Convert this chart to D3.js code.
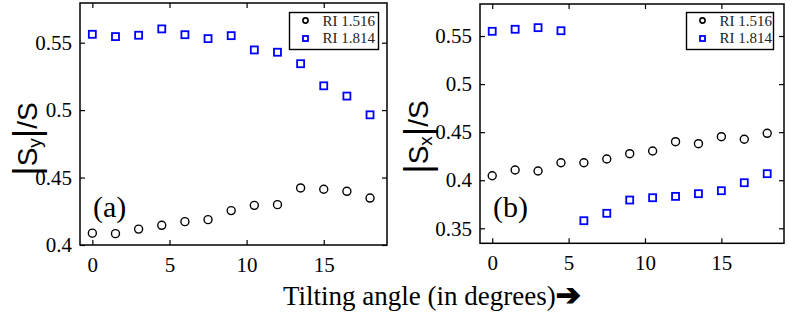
<!DOCTYPE html>
<html>
<head>
<meta charset="utf-8">
<script src="https://cdn.jsdelivr.net/npm/d3@7"></script>
<style>
  body { margin: 0; background: #fff; }
  svg { display: block; }
  .tick text { font-family: "Liberation Serif", serif; font-size: 21px; fill: #000; }
  .tick line { stroke: #000; stroke-width: 1.2; }
</style>
</head>
<body>
<div class="chart"></div>
<script>
// tilting angles (degrees)
var angles = [0, 1.5, 3, 4.5, 6, 7.5, 9, 10.5, 12, 13.5, 15, 16.5, 18];

// panel (a): |Sy|/S
var syRI1516 = [0.4088, 0.4084, 0.4118, 0.4146, 0.4173, 0.4188, 0.4255, 0.4294, 0.4299, 0.4423, 0.4413, 0.4398, 0.4348];
var syRI1814 = [0.5562, 0.5545, 0.5555, 0.5602, 0.5559, 0.5530, 0.5552, 0.5446, 0.5429, 0.5344, 0.5180, 0.5104, 0.4965];

// panel (b): |Sx|/S
var sxRI1516 = [0.4047, 0.4106, 0.4096, 0.4182, 0.4182, 0.4221, 0.4276, 0.4304, 0.4401, 0.4380, 0.4453, 0.4426, 0.4488];
var sxRI1814 = [0.5549, 0.5570, 0.5587, 0.5555, 0.3579, 0.3656, 0.3794, 0.3818, 0.3832, 0.3860, 0.3891, 0.3974, 0.4068];

var xTicks = [0, 5, 10, 15];
var yTicksA = [0.4, 0.45, 0.5, 0.55];
var yTicksB = [0.35, 0.4, 0.45, 0.5, 0.55];
var legendLabels = ["RI 1.516", "RI 1.814"];

var svgWidth = 794, svgHeight = 312;

var svg = d3.select(".chart")
    .append("svg")
    .attr("width", svgWidth)
    .attr("height", svgHeight);

function fmt(d) { return String(+d.toFixed(2)); }

// draws one panel
function drawPanel(p) {
    var w = p.right - p.left, h = p.bottom - p.top;
    var g = svg.append("g").attr("transform", `translate(${p.left}, ${p.top})`);

    var x = d3.scaleLinear().domain([-0.8, 19.1]).range([0, w]);
    var y = d3.scaleLinear().domain(p.yDomain).range([h, 0]);

    // axes with inward ticks
    g.append("g").attr("transform", `translate(0, ${h})`)
        .call(d3.axisBottom(x).tickValues(xTicks).tickSize(-5).tickPadding(12).tickFormat(fmt))
        .call(a => a.select(".domain").remove());
    g.append("g")
        .call(d3.axisTop(x).tickValues(xTicks).tickSize(-5).tickFormat(""))
        .call(a => a.select(".domain").remove());
    g.append("g")
        .call(d3.axisLeft(y).tickValues(p.yTicks).tickSize(-5).tickPadding(8).tickFormat(fmt))
        .call(a => a.select(".domain").remove());
    g.append("g").attr("transform", `translate(${w}, 0)`)
        .call(d3.axisRight(y).tickValues(p.yTicks).tickSize(-5).tickFormat(""))
        .call(a => a.select(".domain").remove());

    g.append("rect")
        .attr("width", w).attr("height", h)
        .attr("fill", "none").attr("stroke", "#000").attr("stroke-width", 1.5);

    // circles
    g.selectAll("circle.pt")
        .data(angles.map((a, i) => ({a: a, v: p.black[i]})))
        .enter().append("circle")
        .attr("class", "pt")
        .attr("cx", d => x(d.a))
        .attr("cy", d => y(d.v))
        .attr("r", 4)
        .attr("fill", "none")
        .attr("stroke", "#000")
        .attr("stroke-width", 1.4);

    // squares
    var s = 7;
    g.selectAll("rect.pt")
        .data(angles.map((a, i) => ({a: a, v: p.blue[i]})))
        .enter().append("rect")
        .attr("class", "pt")
        .attr("x", d => x(d.a) - s / 2)
        .attr("y", d => y(d.v) - s / 2)
        .attr("width", s).attr("height", s)
        .attr("fill", "none")
        .attr("stroke", "#0000ff")
        .attr("stroke-width", 1.8);

    // legend
    var lg = svg.append("g").attr("transform", `translate(${p.legX}, 12.5)`);
    lg.append("rect")
        .attr("width", p.legW).attr("height", 37)
        .attr("fill", "#fff").attr("stroke", "#000").attr("stroke-width", 1.4);
    lg.append("circle").attr("cx", 16).attr("cy", 8).attr("r", 2.6)
        .attr("fill", "none").attr("stroke", "#000").attr("stroke-width", 1.6);
    lg.append("rect").attr("x", 13.5).attr("y", 23.5).attr("width", 5).attr("height", 5)
        .attr("fill", "none").attr("stroke", "#0000ff").attr("stroke-width", 1.8);
    lg.selectAll("text")
        .data(legendLabels)
        .enter().append("text")
        .attr("x", 33)
        .attr("y", (d, i) => 13 + i * 17.5)
        .style("font-family", "Liberation Serif, serif")
        .style("font-size", "15px")
        .attr("fill", "#222")
        .text(d => d);

    // panel tag
    svg.append("text")
        .attr("x", p.left + 13).attr("y", 217)
        .style("font-family", "Liberation Serif, serif")
        .style("font-size", "30px")
        .text(p.tag);

    // y axis label
    var yl = svg.append("text")
        .attr("transform", `translate(${p.labelX}, ${p.labelY}) rotate(-90)`)
        .attr("text-anchor", "middle")
        .style("font-family", "Liberation Sans, sans-serif")
        .style("font-size", "28px");
    yl.append("tspan").attr("dy", 2).style("font-size", "36px").style("font-weight", "300").text("|");
    yl.append("tspan").attr("dy", -2).text("S");
    yl.append("tspan").attr("dy", 4).style("font-size", "19px").text(p.sub);
    yl.append("tspan").attr("dy", -2).style("font-size", "36px").text("|");
    yl.append("tspan").attr("dy", -2).text("/S");
}

drawPanel({left: 80, right: 387, top: 3, bottom: 245, yDomain: [0.4, 0.5794], yTicks: yTicksA,
    black: syRI1516, blue: syRI1814, legX: 289.5, legW: 89, tag: "(a)", sub: "y", labelX: 37, labelY: 139});
drawPanel({left: 480, right: 784, top: 4, bottom: 243.3, yDomain: [0.3344, 0.5833], yTicks: yTicksB,
    black: sxRI1516, blue: sxRI1814, legX: 686.5, legW: 87, tag: "(b)", sub: "x", labelX: 428, labelY: 137});

// shared x label
var xl = svg.append("text")
    .attr("x", 283).attr("y", 305)
    .style("font-family", "Liberation Serif, serif")
    .style("font-size", "27px");
xl.append("tspan").text("Tilting angle (in degrees)");
xl.append("tspan")
    .style("font-family", "DejaVu Sans, sans-serif")
    .style("font-size", "30px")
    .style("font-weight", "bold")
    .attr("stroke", "#000")
    .attr("stroke-width", 1.2)
    .text("➔");
</script>
</body>
</html>
